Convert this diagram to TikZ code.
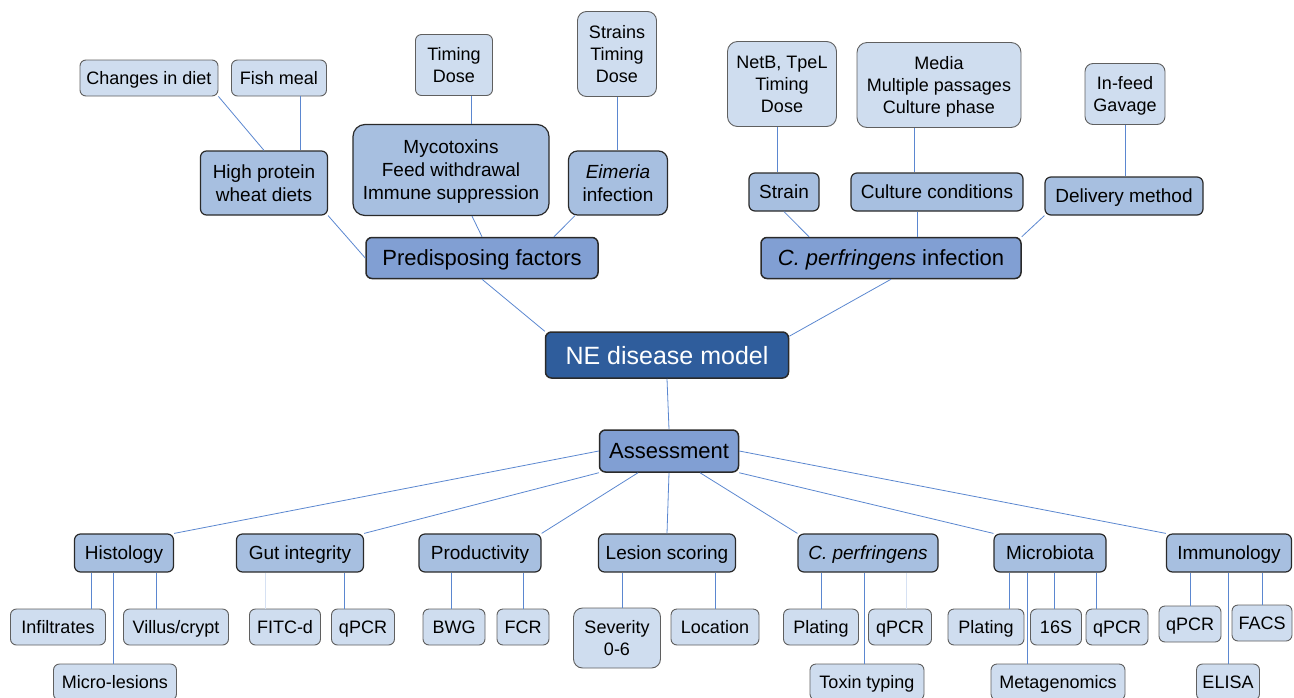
\documentclass[tikz,border=0pt]{standalone}
\usepackage{fontspec}
\setmainfont{Liberation Sans}
\usepackage{tikz}
\usetikzlibrary{positioning,calc}
\definecolor{leaf1}{HTML}{CFDDEF}
\definecolor{sub1}{HTML}{A7BFE0}
\definecolor{main1}{HTML}{819FD3}
\definecolor{root1}{HTML}{2F5D9C}
\definecolor{link1}{HTML}{5B87D0}
\definecolor{edge1}{HTML}{2A2A2A}
\begin{document}
\begin{tikzpicture}[
    x=1pt, y=-1pt,
    sz/.style 2 args={minimum width=#1pt, minimum height=#2pt},
    box/.style={draw, rounded corners=6pt, align=center, inner sep=0pt,
                text depth=0pt},
    leaf/.style={box, fill=leaf1, draw=edge1!75, line width=0.9pt,
                 font=\fontsize{18}{22}\selectfont},
    sub/.style={box, fill=sub1, draw=edge1, line width=1.2pt,
                font=\fontsize{19}{23}\selectfont},
    main/.style={box, fill=main1, draw=edge1, line width=1.5pt,
                 font=\fontsize{22}{26}\selectfont},
    root/.style={box, fill=root1, draw=edge1, line width=1.5pt,
                 text=white, font=\fontsize{25}{29}\selectfont},
    link/.style={draw=link1, line width=0.8pt},
    faint/.style={draw=link1!25, line width=0.8pt},
]
\useasboundingbox (0,0) rectangle (1294,697);

% ── Predisposing factors ──
\node[leaf, sz={138}{36}] (diet) at (149,78) {Changes in diet};
\node[leaf, sz={95}{36}] (fish) at (279,78) {Fish meal};
\node[sub, sz={127}{64}] (hpw) at (264,183) {High protein\\wheat diets};
\node[leaf, sz={77}{61}] (mtime) at (454,65) {Timing\\Dose};
\node[sub, sz={196}{91}, rounded corners=12pt]
    (myco) at (451,170) {Mycotoxins\\Feed withdrawal\\Immune suppression};
\node[leaf, sz={79}{85}, rounded corners=9pt]
    (etime) at (617,54) {Strains\\Timing\\Dose};
\node[sub, sz={99}{64}, rounded corners=9pt]
    (eim) at (618,183) {\textit{Eimeria}\\infection};
\node[main, sz={232}{41}] (pre) at (482,258) {Predisposing factors};

% ── C. perfringens infection ──
\node[leaf, sz={109}{85}, rounded corners=10pt]
    (tox) at (782,84) {NetB, TpeL\\Timing\\Dose};
\node[leaf, sz={164}{85}, rounded corners=10pt]
    (media) at (939,85) {Media\\Multiple passages\\Culture phase};
\node[leaf, sz={80}{61}, rounded corners=8pt]
    (feed) at (1125,94) {In-feed\\Gavage};
\node[sub, sz={70}{38}] (strain) at (784,192) {Strain};
\node[sub, sz={172}{38}] (cult) at (937,192) {Culture conditions};
\node[sub, sz={158}{38}] (deliv) at (1124,196) {Delivery method};
\node[main, sz={260}{41}] (cpi) at (891,258) {\textit{C. perfringens} infection};

% ── centre ──
\node[root, sz={243}{46}] (ne) at (667,355) {NE disease model};
\node[main, sz={139}{42}] (assess) at (669,451) {Assessment};

% ── Assessment branches ──
\node[sub, sz={99}{38}] (histo) at (124,553) {Histology};
\node[sub, sz={127}{38}] (gut) at (300,553) {Gut integrity};
\node[sub, sz={122}{38}] (prod) at (480,553) {Productivity};
\node[sub, sz={137}{38}] (lesion) at (667,553) {Lesion scoring};
\node[sub, sz={140}{38}] (cpb) at (868,553) {\textit{C. perfringens}};
\node[sub, sz={112}{38}] (micro) at (1050,553) {Microbiota};
\node[sub, sz={125}{38}] (immu) at (1229,553) {Immunology};

% ── methods ──
\node[leaf, sz={95}{36}] (infil) at (58,627) {Infiltrates};
\node[leaf, sz={105}{36}] (villus) at (176,627) {Villus/crypt};
\node[leaf, sz={123}{36}] (mles) at (115,682) {Micro-lesions};
\node[leaf, sz={71}{36}] (fitc) at (285,627) {FITC-d};
\node[leaf, sz={63}{36}] (gqpcr) at (363,627) {qPCR};
\node[leaf, sz={62}{36}] (bwg) at (454,627) {BWG};
\node[leaf, sz={52}{36}] (fcr) at (523,627) {FCR};
\node[leaf, sz={87}{60}, rounded corners=9pt] (sev) at (617,638) {Severity\\0-6};
\node[leaf, sz={88}{36}] (loc) at (715,627) {Location};
\node[leaf, sz={75}{36}] (cplate) at (821,627) {Plating};
\node[leaf, sz={63}{36}] (cqpcr) at (900,627) {qPCR};
\node[leaf, sz={114}{36}] (toxt) at (867,682) {Toxin typing};
\node[leaf, sz={76}{36}] (mplate) at (986,627) {Plating};
\node[leaf, sz={51}{36}] (s16) at (1056,627) {16S};
\node[leaf, sz={62}{36}] (mqpcr) at (1117,627) {qPCR};
\node[leaf, sz={134}{36}] (metag) at (1058,682) {Metagenomics};
\node[leaf, sz={62}{36}] (iqpcr) at (1190,624) {qPCR};
\node[leaf, sz={60}{36}] (facs) at (1262,623) {FACS};
\node[leaf, sz={63}{36}] (elisa) at (1228,682) {ELISA};

% ── upper links ──
\draw[link] (diet.south east) -- (hpw.north);
\draw[link] ([xshift=21pt]fish.south) coordinate (t) -- (t |- hpw.north);
\draw[link] (hpw.south east) -- (pre.west);
\draw[link] ([xshift=17pt]mtime.south) coordinate (t) -- (t |- myco.north);
\draw[link] ([xshift=21pt]myco.south) -- (pre.north);
\draw[link] (etime.south) -- (etime.south |- eim.north);
\draw[link] ([xshift=-43pt]eim.south) -- ([xshift=72pt]pre.north);
\draw[link] (pre.south) -- (ne.north west);

\draw[link] ([xshift=-5pt]tox.south) coordinate (t) -- (t |- strain.north);
\draw[link] (strain.south) -- ([xshift=-82pt]cpi.north);
\draw[link] ([xshift=-25pt]media.south) coordinate (t) -- (t |- cult.north);
\draw[link] ([xshift=-20pt]cult.south) coordinate (t) -- (t |- cpi.north);
\draw[link] (feed.south) -- (feed.south |- deliv.north);
\draw[link] (deliv.south west) -- (cpi.north east);
\draw[link] (cpi.south) -- ([yshift=-5pt]ne.north east);

% ── lower links ──
\draw[link] (ne.south) -- (assess.north);
\draw[link] (assess.west) -- (histo.north east);
\draw[link] (assess.south west) -- (gut.north east);
\draw[link] ([xshift=-31pt]assess.south) -- (prod.north east);
\draw[link] (assess.south) -- (lesion.north);
\draw[link] ([xshift=31pt]assess.south) -- (cpb.north west);
\draw[link] (assess.south east) -- (micro.north west);
\draw[link] (assess.east) -- (immu.north west);

\draw[link] ([xshift=33pt]infil.north) coordinate (t) -- (t |- histo.south);
\draw[link] ([xshift=-2pt]mles.north) coordinate (t) -- (t |- histo.south);
\draw[link] ([xshift=-20pt]villus.north) coordinate (t) -- (t |- histo.south);
\draw[faint] ([xshift=-20pt]fitc.north) coordinate (t) -- (t |- gut.south);
\draw[link] ([xshift=-19pt]gqpcr.north) coordinate (t) -- (t |- gut.south);
\draw[link] ([xshift=-3pt]bwg.north) coordinate (t) -- (t |- prod.south);
\draw[link] (fcr.north) -- (fcr.north |- prod.south);
\draw[link] ([xshift=5pt]sev.north) coordinate (t) -- (t |- lesion.south);
\draw[link] (loc.north) -- (loc.north |- lesion.south);
\draw[link] (cplate.north) -- (cplate.north |- cpb.south);
\draw[faint] ([xshift=6pt]cqpcr.north) coordinate (t) -- (t |- cpb.south);
\draw[link] ([xshift=-3pt]toxt.north) coordinate (t) -- (t |- cpb.south);
\draw[link] ([xshift=23pt]mplate.north) coordinate (t) -- (t |- micro.south);
\draw[link] ([xshift=-31pt]metag.north) coordinate (t) -- (t |- micro.south);
\draw[link] ([xshift=-2pt]s16.north) coordinate (t) -- (t |- micro.south);
\draw[link] ([xshift=-21pt]mqpcr.north) coordinate (t) -- (t |- micro.south);
\draw[link] (iqpcr.north) -- (iqpcr.north |- immu.south);
\draw[link] (elisa.north) -- (elisa.north |- immu.south);
\draw[link] (facs.north) -- (facs.north |- immu.south);

\end{tikzpicture}
\end{document}
